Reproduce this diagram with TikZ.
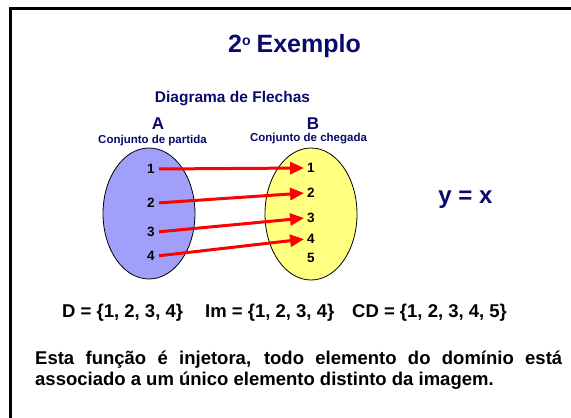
\documentclass[tikz,border=0pt]{standalone}
\usepackage{fontspec}
\setmainfont{Liberation Sans}
\usetikzlibrary{shapes.geometric,arrows.meta}
\definecolor{navy}{RGB}{10,10,110}
\definecolor{setA}{RGB}{160,160,250}
\definecolor{setB}{RGB}{255,255,128}
\definecolor{arrowred}{RGB}{255,0,0}
\tikzset{
  txt/.style={inner sep=0pt, font=\bfseries},
  num/.style={inner sep=2pt, font=\bfseries\fontsize{13.5}{14}\selectfont, text=black},
  setshape/.style={ellipse, draw=black, line width=0.8pt, inner sep=0pt},
  maparrow/.style={draw=arrowred, line width=3pt, -{Triangle[length=14pt,width=12pt]}, shorten <=2pt, shorten >=1pt},
}
\begin{document}
\begin{tikzpicture}[x=1pt,y=-1pt]
\useasboundingbox (0,0) rectangle (571,418);
\fill[white] (0,0) rectangle (571,418);
% frame
\draw[line width=3pt, black] (10,420) -- (10,8.5) -- (573,8.5);
% title
\node[txt, anchor=base, text=navy, font=\bfseries\fontsize{25}{30}\selectfont] (title) at (294.5,52) {2\raisebox{6.5pt}{\fontsize{14}{14}\selectfont o}\hspace{6pt}Exemplo};
\node[txt, anchor=base, text=navy, font=\bfseries\fontsize{15.5}{18}\selectfont] (diag) at (232.5,102) {Diagrama de Flechas};
\node[txt, anchor=base, text=navy, font=\bfseries\fontsize{17}{18}\selectfont] (labA) at (158,129) {A};
\node[txt, anchor=base, text=navy, font=\bfseries\fontsize{17}{18}\selectfont] (labB) at (313,129) {B};
\node[txt, anchor=base, text=navy, font=\bfseries\fontsize{11.5}{13}\selectfont] (partida) at (152.5,143) {Conjunto de partida};
\node[txt, anchor=base, text=navy, font=\bfseries\fontsize{11.5}{13}\selectfont] (chegada) at (308.5,141) {Conjunto de chegada};
% sets
\node[setshape, fill=setA, minimum width=92pt, minimum height=131pt] (A) at (149,213.5) {};
\node[setshape, fill=setB, minimum width=92pt, minimum height=132pt] (B) at (311,214) {};
% elements
\node[num] (a1) at (151,169) {1};
\node[num] (a2) at (151,203) {2};
\node[num] (a3) at (151,232) {3};
\node[num] (a4) at (151,256) {4};
\node[num] (b1) at (311,168) {1};
\node[num] (b2) at (311,193) {2};
\node[num] (b3) at (311,218) {3};
\node[num] (b4) at (311,239) {4};
\node[num] (b5) at (311,258) {5};
% arrows
\draw[maparrow] (a1.east) -- (b1.west);
\draw[maparrow] (a2.east) -- (b2.west);
\draw[maparrow] (a3.east) -- (b3.west);
\draw[maparrow] (a4.east) -- (b4.west);
% y = x
\node[txt, anchor=base, text=navy, font=\bfseries\fontsize{24}{28}\selectfont] (yx) at (465.5,203) {y = x};
% sets text
\node[txt, anchor=base west, font=\bfseries\fontsize{18.5}{22}\selectfont] (dom) at (62,317) {D = \{1, 2, 3, 4\}};
\node[txt, anchor=base west, font=\bfseries\fontsize{18.5}{22}\selectfont] (img) at (205,317) {Im = \{1, 2, 3, 4\}};
\node[txt, anchor=base west, font=\bfseries\fontsize{18.5}{22}\selectfont] (cod) at (352,317) {CD = \{1, 2, 3, 4, 5\}};
% explanation
\node[txt, anchor=base west, font=\bfseries\fontsize{18.5}{22}\selectfont] (exp1) at (35,364) {\makebox[527pt][s]{Esta função é injetora, todo elemento do domínio está}};
\node[txt, anchor=base west, font=\bfseries\fontsize{18.5}{22}\selectfont] (exp2) at (35,385) {associado a um único elemento distinto da imagem.};
\end{tikzpicture}
\end{document}
